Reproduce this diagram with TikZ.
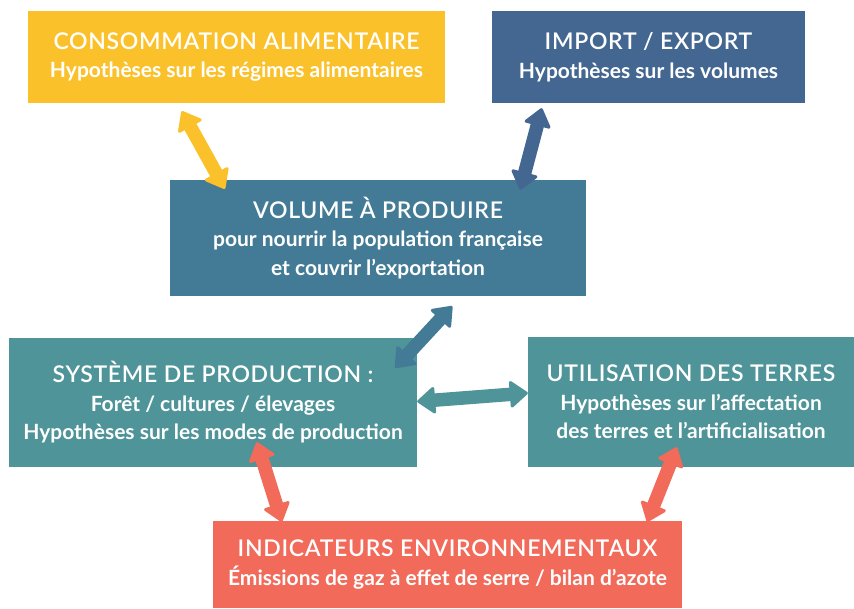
\documentclass[tikz,border=0pt]{standalone}
\usepackage{fontspec}
\setmainfont{Lato}
\newfontfamily\ttlfont[LetterSpace=3]{Lato Semibold}
\usetikzlibrary{arrows.meta,calc}
\definecolor{cyellow}{HTML}{FAC12B}
\definecolor{cimport}{HTML}{436790}
\definecolor{cvolume}{HTML}{437B96}
\definecolor{cteal}{HTML}{4E9499}
\definecolor{cred}{HTML}{F16A5A}
\newcommand{\ttl}{\ttlfont\fontsize{23}{28}\selectfont}
\newcommand{\sbt}{\bfseries\fontsize{21}{28}\selectfont}
\tikzset{
  box/.style={rectangle, inner sep=0pt, text=white, align=center,
    font=\fontsize{21}{28.5}\selectfont},
  tipA/.tip={Triangle[round, line width=3pt, width=29pt, length=19pt]},
  dbl/.style={line width=13.5pt, tipA-tipA}
}
\begin{document}
\begin{tikzpicture}[x=1pt,y=-1pt]
\useasboundingbox (0,0) rectangle (854,608);
\node[box, fill=cyellow, minimum width=417pt, minimum height=92pt] (cons) at (236.5,57)
  {{\ttl CONSOMMATION ALIMENTAIRE}\\{\sbt Hypothèses sur les régimes alimentaires}};
\node[box, fill=cimport, minimum width=313pt, minimum height=92pt] (imp) at (648.5,57)
  {{\ttl IMPORT / EXPORT}\\{\sbt Hypothèses sur les volumes}};
\node[box, fill=cvolume, minimum width=416pt, minimum height=116pt] (vol) at (378,238)
  {{\ttl VOLUME À PRODUIRE}\\{\sbt pour nourrir la population française}\\{\sbt et couvrir l’exportation}};
\node[box, fill=cteal, minimum width=408pt, minimum height=129pt] (sys) at (213,402.5)
  {{\ttl SYSTÈME DE PRODUCTION :}\\{\sbt Forêt / cultures / élevages}\\{\sbt Hypothèses sur les modes de production}};
\node[box, fill=cteal, minimum width=326pt, minimum height=130pt] (util) at (691,402)
  {{\ttl UTILISATION DES TERRES}\\{\sbt Hypothèses sur l’affectation}\\{\sbt des terres et l’artificialisation}};
\node[box, fill=cred, minimum width=469pt, minimum height=87pt] (ind) at (447.5,564.5)
  {{\ttl INDICATEURS ENVIRONNEMENTAUX}\\{\sbt Émissions de gaz à effet de serre / bilan d’azote}};
% arrow end points
\coordinate (yA) at ($(cons.south west)+(154,8)$);
\coordinate (yB) at ($(vol.north west)+(55,9)$);
\coordinate (iA) at ($(imp.south west)+(50,5)$);
\coordinate (iB) at ($(vol.north east)+(-66,10)$);
\coordinate (vA) at ($(vol.south east)+(-134,10)$);
\coordinate (vB) at ($(sys.north east)+(-22,30)$);
\coordinate (hA) at ($(sys.east)+(0,-1)$);
\coordinate (hB) at ($(util.west)+(0,-9)$);
\coordinate (rA) at ($(sys.south west)+(248,-25)$);
\coordinate (rB) at ($(ind.north west)+(69,1)$);
\coordinate (sA) at ($(util.south west)+(149,-20)$);
\coordinate (sB) at ($(ind.north east)+(-35,1)$);
\draw[dbl, cyellow] (yA) -- (yB);
\draw[dbl, cimport] (iA) -- (iB);
\draw[dbl, cvolume] (vA) -- (vB);
\draw[dbl, cteal] (hA) -- (hB);
\draw[dbl, cred] (rA) -- (rB);
\draw[dbl, cred] (sA) -- (sB);
\end{tikzpicture}
\end{document}
